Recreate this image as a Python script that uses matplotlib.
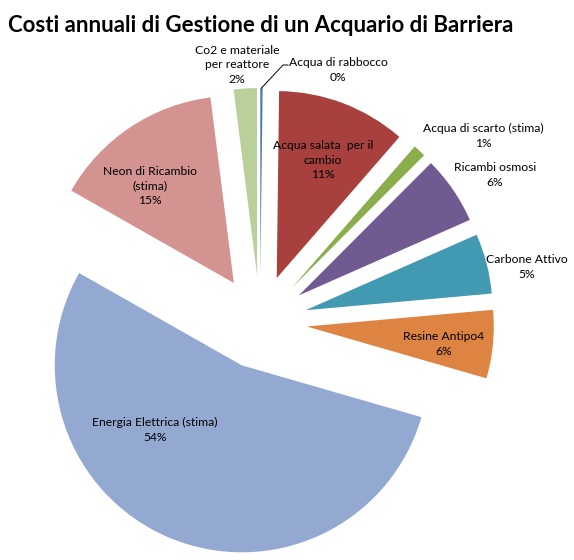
import numpy as np
import matplotlib.pyplot as plt

plt.rcParams['font.family'] = ['Lato', 'DejaVu Sans']

# data (clockwise from 12 o'clock)
categories = ['Acqua di rabbocco', 'Acqua salata  per il\ncambio', 'Acqua di scarto (stima)',
              'Ricambi osmosi', 'Carbone Attivo', 'Resine Antipo4',
              'Energia Elettrica (stima)', 'Neon di Ricambio\n(stima)', 'Co2 e materiale\nper reattore']
values = [0.2, 11.2, 1.1, 5.9, 5.2, 5.9, 53.8, 14.8, 2.0]
colors = ['#4A77B6', '#A8403E', '#8BAE4C', '#715A92', '#4299B2', '#DD8443',
          '#94A9D2', '#D39391', '#B9D09A']

# label block centres, pixels from top-left
label_xy = [(338, 70), (323, 160), (483, 136), (495, 175), (527, 267),
            (444, 344), (155, 430), (150, 186), (237, 65)]

W, H = 574, 560
cx, cy, R = 260, H - 322, 187
gap = 47  # explode distance, px

fig = plt.figure(figsize=(W / 100, H / 100), dpi=100)
ax = fig.add_axes([0, 0, 1, 1])

wedges, _ = ax.pie(values, colors=colors, startangle=90, counterclock=False,
                   explode=[gap] * len(values), radius=R, center=(cx, cy),
                   wedgeprops=dict(linewidth=0))
ax.set_xlim(0, W)
ax.set_ylim(0, H)
ax.set_aspect('equal')
ax.axis('off')

total = sum(values)
for name, v, (x, y) in zip(categories, values, label_xy):
    ax.text(x, H - y, f'{name}\n{round(100 * v / total)}%', ha='center', va='center',
            fontsize=8.7, linespacing=1.42, color='black')

# leader line for the tiny slice
w0 = wedges[0]
th = np.deg2rad((w0.theta1 + w0.theta2) / 2)
x0, y0 = w0.center[0] + R * np.cos(th), w0.center[1] + R * np.sin(th)
ax.plot([x0, 283, 288], [y0, H - 65, H - 65], color='black', lw=0.7)

ax.text(8, H - 32, 'Costi annuali di Gestione di un Acquario di Barriera',
        fontsize=16, fontweight='bold', ha='left', va='baseline')

fig.savefig('out.png', dpi=100)
